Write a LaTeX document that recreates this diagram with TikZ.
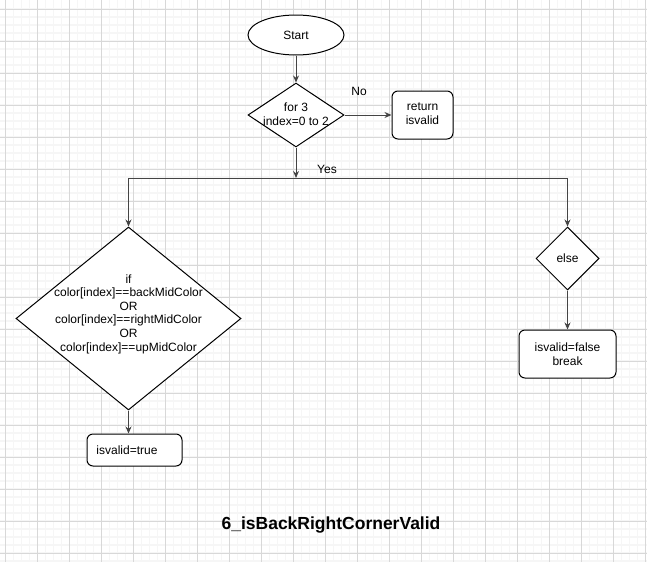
\documentclass[tikz,border=0pt]{standalone}
\usepackage{fontspec}
\setmainfont{Liberation Sans}
\usetikzlibrary{shapes.geometric,arrows.meta}
\definecolor{gridminor}{HTML}{F6F6F6}
\definecolor{gridmajor}{HTML}{D8D8D8}
\definecolor{conn}{HTML}{444444}
\tikzset{
  lbl/.style={font=\fontsize{12}{14}\selectfont, align=center, inner sep=0pt},
  shp/.style={draw=black, line width=1pt, fill=white, inner sep=0pt},
  dia/.style={shp, diamond},
  rbox/.style={shp, rectangle, rounded corners=6pt},
  oval/.style={shp, ellipse},
  conline/.style={draw=conn, line width=1pt},
  arr/.style={conline, -{Stealth[length=7pt,width=6pt]}},
}
\begin{document}
\begin{tikzpicture}[x=1pt,y=-1pt]
\useasboundingbox (0,0) rectangle (647,562);
\fill[white] (0,0) rectangle (647,562);
% grid
\foreach \k in {0,...,80} {
  \draw[gridminor, line width=1.5pt] ({5.5+8*\k},0) -- ({5.5+8*\k},562);
}
\foreach \k in {0,...,70} {
  \draw[gridminor, line width=1.5pt] (0,{9+8*\k}) -- (647,{9+8*\k});
}
\foreach \k in {0,...,20} {
  \draw[gridmajor, line width=1pt] ({5.5+32*\k},0) -- ({5.5+32*\k},562);
}
\foreach \k in {0,...,17} {
  \draw[gridmajor, line width=1pt] (0,{9+32*\k}) -- (647,{9+32*\k});
}
% nodes
\node[oval, minimum width=96pt, minimum height=40pt] (start) at (296,35) {};
\node[lbl] (startt) at (296,35) {Start};
\node[dia, minimum width=96pt, minimum height=64pt] (loop) at (296,115) {};
\node[lbl] (loopt) at (296,114) {for 3\\index=0 to 2};
\node[rbox, minimum width=61pt, minimum height=48pt] (ret) at (422.5,115) {};
\node[lbl] (rett) at (422.5,114) {return\\isvalid};
\node[dia, minimum width=225pt, minimum height=183pt] (cond) at (128.5,318.5) {};
\node[lbl, font=\fontsize{12}{13.6}\selectfont] (condt) at (128.5,314) {if\\color[index]==backMidColor\\OR\\color[index]==rightMidColor\\OR\\color[index]==upMidColor};
\node[rbox, minimum width=95pt, minimum height=32pt] (tbox) at (134.5,450) {};
\node[lbl] (tboxt) at (127,450) {isvalid=true};
\node[dia, minimum width=63pt, minimum height=63pt] (els) at (567.5,258.5) {};
\node[lbl] (elst) at (567.5,258.5) {else};
\node[rbox, minimum width=97pt, minimum height=48pt] (fbox) at (567.5,354) {};
\node[lbl] (fboxt) at (567.5,354) {isvalid=false\\break};
\node[lbl, font=\bfseries\fontsize{17.5}{20}\selectfont] (title) at (331,525) {6\_isBackRightCornerValid};
\node[lbl] (no) at (359,91) {No};
\node[lbl] (yes) at (327,169) {Yes};
% connectors
\coordinate (j) at (296,178);
\coordinate (jl) at (128.5,178);
\coordinate (jr) at (567.5,178);
\draw[arr] (start.south) -- (loop.north);
\draw[arr] (loop.east) -- (ret.west);
\draw[arr] (loop.south) -- (j);
\draw[conline] (jl) -- (jr);
\draw[arr] (jl) -- (cond.north);
\draw[arr] (jr) -- (els.north);
\draw[arr] (cond.south) -- (cond.south |- tbox.north);
\draw[arr] (els.south) -- (fbox.north);
\end{tikzpicture}
\end{document}
